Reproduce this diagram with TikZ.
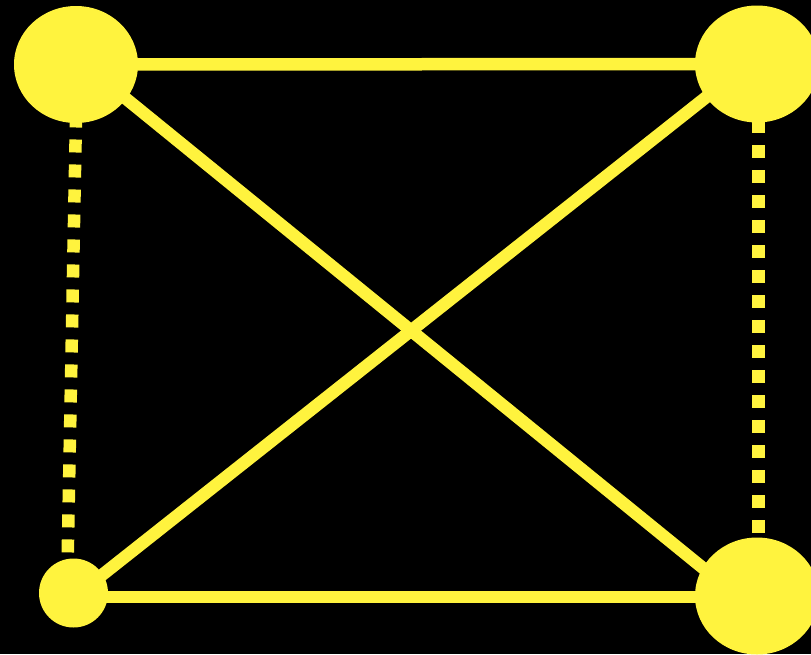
\documentclass[tikz,border=0pt]{standalone}
\usetikzlibrary{shapes.geometric}
\definecolor{ylw}{RGB}{255,243,62}
\begin{document}
\begin{tikzpicture}[x=1pt,y=-1pt,
  bignode/.style={ellipse,fill=ylw,draw=none,minimum width=124pt,minimum height=117pt,inner sep=0pt},
  smallnode/.style={circle,fill=ylw,draw=none,minimum size=69pt,inner sep=0pt},
  edge/.style={draw=ylw,line width=12.5pt,line cap=butt},
  dotedge/.style={draw=ylw,line width=12.5pt,line cap=butt,dash pattern=on 13pt off 12pt}]
\fill[black] (0,0) rectangle (811,654);
\useasboundingbox (0,0) rectangle (811,654);
\coordinate (tlc) at (76,64.5);
\coordinate (trc) at (757,64);
\coordinate (blc) at (73.5,593);
\coordinate (brc) at (757,596);
\draw[edge] (tlc) -- (trc);
\draw[edge] ([yshift=-4pt]blc) -- ([yshift=-1pt]brc);
\draw[edge] ([yshift=6.5pt]tlc) -- ([yshift=-16pt]brc);
\draw[edge] ([yshift=7pt]trc) -- ([yshift=-5pt,xshift=-0.5pt]blc);
\draw[dotedge] ([xshift=1pt]tlc) -- ([xshift=-6.5pt]blc);
\draw[dotedge] ([xshift=1.5pt,yshift=-6pt]trc) -- ([xshift=1.5pt,yshift=-2pt]brc);
\node[bignode] (tl) at (tlc) {};
\node[bignode] (tr) at (trc) {};
\node[smallnode] (bl) at (blc) {};
\node[bignode] (br) at (brc) {};
\end{tikzpicture}
\end{document}
